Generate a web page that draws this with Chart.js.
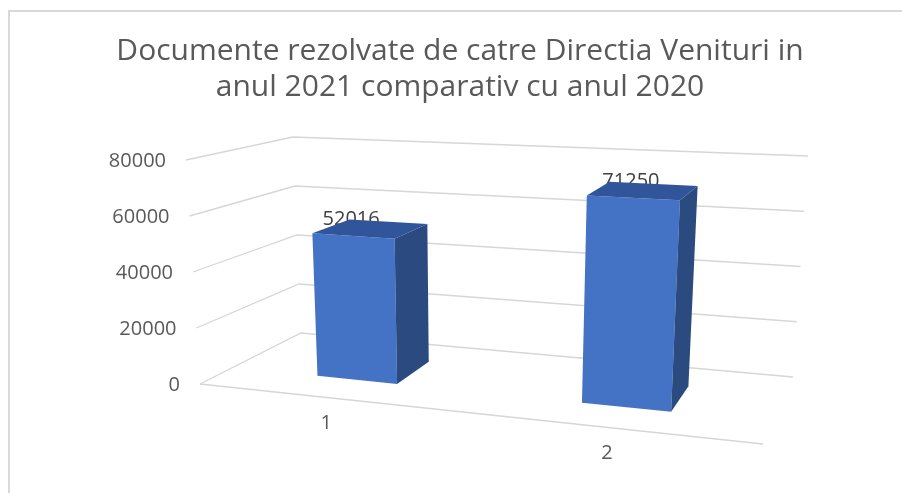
<!DOCTYPE html>
<html>
<head>
<meta charset="utf-8">
<script src="https://cdn.jsdelivr.net/npm/chart.js@4.4.0/dist/chart.umd.min.js"></script>
<style>
  html, body { margin: 0; padding: 0; background: #ffffff; }
  #wrap { position: relative; width: 902px; height: 493px; overflow: hidden; }
  #frame { position: absolute; left: 8px; top: 10px; width: 900px; height: 490px;
           border-top: 2px solid #d9d9d9; border-left: 2px solid #d9d9d9; box-sizing: border-box; }
  canvas { position: absolute; left: 0; top: 0; }
</style>
</head>
<body>
<div id="wrap">
  <div id="frame"></div>
  <canvas id="c" width="902" height="493"></canvas>
</div>
<script>
// ---- data ----
const categories = ['1', '2'];
const values = [52016, 71250];
const titleLines = ['Documente rezolvate de catre Directia Venituri in', 'anul 2021 comparativ cu anul 2020'];
const yMin = 0;
const yMax = 80000;
const yStep = 20000;

// ---- 3D box layout (projection of the plot volume onto the page) ----
const BOX = {
  FBL: [200, 384], FBR: [763, 444], FTL: [186, 160], FTR: [778, 191],
  BBL: [301, 333], BBR: [793, 377], BTL: [293, 137], BTR: [808, 156]
};
const RU = 1.12;   // far/near ratio left vs right
const RW = 1.14;   // far/near ratio back vs front
const DEPTH0 = 0.3, DEPTH1 = 0.7;
const COLORS = { front: '#4472C4', side: '#2B4A80', top: '#30559A', grid: '#d6d6d6', text: '#595959', label: '#404040' };

function lerp(a, b, t) { return [a[0] + (b[0] - a[0]) * t, a[1] + (b[1] - a[1]) * t]; }
function proj(u, h, w) {
  const p = u / (u + RU * (1 - u));
  const q = w * RW / ((1 - w) + w * RW);
  const fb = lerp(BOX.FBL, BOX.FBR, p), ft = lerp(BOX.FTL, BOX.FTR, p);
  const bb = lerp(BOX.BBL, BOX.BBR, p), bt = lerp(BOX.BTL, BOX.BTR, p);
  const f = lerp(fb, ft, h), b = lerp(bb, bt, h);
  return lerp(f, b, q);
}
function poly(ctx, pts, fill) {
  ctx.beginPath();
  ctx.moveTo(pts[0][0], pts[0][1]);
  for (let i = 1; i < pts.length; i++) ctx.lineTo(pts[i][0], pts[i][1]);
  ctx.closePath();
  ctx.fillStyle = fill;
  ctx.fill();
}

const box3d = {
  id: 'box3d',
  afterDatasetsDraw(chart) {
    const ctx = chart.ctx;
    const ca = chart.chartArea;
    const ys = chart.scales.y;
    const xs = chart.scales.x;
    const hOf = v => (ca.bottom - ys.getPixelForValue(v)) / (ca.bottom - ca.top);
    const uOf = px => (px - ca.left) / (ca.right - ca.left);
    ctx.save();
    // gridlines on the walls
    ctx.strokeStyle = COLORS.grid;
    ctx.lineWidth = 1.3;
    ys.ticks.forEach(t => {
      const h = hOf(t.value);
      const a = proj(0, h, 0), b = proj(0, h, 1), c = proj(1, h, 1);
      ctx.beginPath();
      ctx.moveTo(a[0], a[1]); ctx.lineTo(b[0], b[1]); ctx.lineTo(c[0], c[1]);
      ctx.stroke();
    });
    // floor front edge
    const f0 = proj(0, 0, 0), f1 = proj(1, 0, 0);
    ctx.beginPath(); ctx.moveTo(f0[0], f0[1]); ctx.lineTo(f1[0], f1[1]); ctx.stroke();

    // value axis labels
    ctx.fillStyle = COLORS.text;
    ctx.font = '20px "Open Sans"';
    ctx.textAlign = 'right';
    ctx.textBaseline = 'middle';
    ys.ticks.forEach(t => {
      const p = proj(0, hOf(t.value), 0);
      ctx.fillText(String(t.value), p[0] - 20, p[1] + 1);
    });
    // category labels
    ctx.textAlign = 'center';
    categories.forEach((lab, i) => {
      const p = proj(uOf(xs.getPixelForValue(i)), 0, 0);
      ctx.fillText(lab, p[0] - 3, p[1] + 26);
    });

    // bars
    const meta = chart.getDatasetMeta(0);
    meta.data.forEach((bar, i) => {
      const uc = uOf(bar.x);
      const hw = bar.width / 2 / (ca.right - ca.left);
      const u0 = uc - hw, u1 = uc + hw;
      const h = hOf(values[i]);
      // data label (drawn first, partially covered by the bar top like the original)
      const lt = proj(uc, h, DEPTH0);
      ctx.fillStyle = COLORS.label;
      ctx.textAlign = 'center';
      ctx.textBaseline = 'middle';
      ctx.fillText(String(values[i]), lt[0] - 2, lt[1] - 17);
      // faces
      poly(ctx, [proj(u0, 0, DEPTH0), proj(u1, 0, DEPTH0), proj(u1, h, DEPTH0), proj(u0, h, DEPTH0)], COLORS.front);
      poly(ctx, [proj(u1, 0, DEPTH0), proj(u1, 0, DEPTH1), proj(u1, h, DEPTH1), proj(u1, h, DEPTH0)], COLORS.side);
      poly(ctx, [proj(u0, h, DEPTH0), proj(u1, h, DEPTH0), proj(u1, h, DEPTH1), proj(u0, h, DEPTH1)], COLORS.top);
    });
    ctx.restore();
  }
};

new Chart(document.getElementById('c'), {
  type: 'bar',
  data: {
    labels: categories,
    datasets: [{ data: values, backgroundColor: 'rgba(0,0,0,0)', borderWidth: 0,
                 barPercentage: 0.313, categoryPercentage: 1 }]
  },
  options: {
    responsive: false,
    animation: false,
    events: [],
    layout: { padding: { left: 18, right: 0, top: 0, bottom: 0 } },
    plugins: {
      legend: { display: false },
      tooltip: { enabled: false },
      title: {
        display: true,
        text: titleLines,
        color: COLORS.text,
        font: { family: '"Open Sans"', size: 30, weight: 'normal', lineHeight: 1.22 },
        padding: { top: 33, bottom: 10 }
      }
    },
    scales: {
      x: { display: false, offset: true },
      y: { display: false, min: yMin, max: yMax, ticks: { stepSize: yStep } }
    }
  },
  plugins: [box3d]
});
</script>
</body>
</html>
